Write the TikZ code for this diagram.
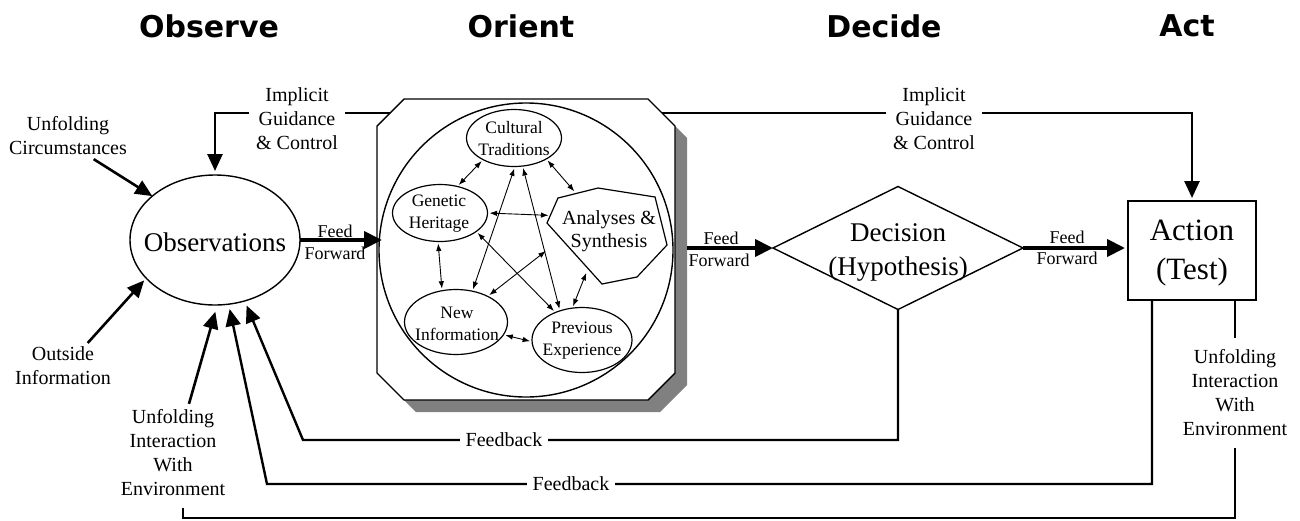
\documentclass[tikz,border=0pt]{standalone}
\usepackage{fontspec}
\setmainfont{Liberation Serif}
\newfontfamily\headfont{DejaVu Sans}
\usetikzlibrary{arrows.meta,shapes.geometric,calc}
\definecolor{shadowgray}{RGB}{128,128,128}
\begin{document}
\begin{tikzpicture}[x=1pt,y=-1pt,
  every node/.style={inner sep=0pt,outer sep=0pt},
  outline/.style={draw,line width=1.4pt},
  oval/.style={draw,ellipse,line width=1.2pt},
  heading/.style={font=\headfont\bfseries\fontsize{30}{36}\selectfont},
  lbl/.style={font=\fontsize{20}{24}\selectfont,align=center},
  ffl/.style={font=\fontsize{18}{20}\selectfont},
  intxt/.style={font=\fontsize{17.5}{22}\selectfont,align=center},
  bigtxt/.style={font=\fontsize{27}{34}\selectfont,align=center},
  heavy/.style={line width=2.6pt,-{Triangle[length=17pt,width=15pt]}},
  fbline/.style={line width=2.2pt},
  ffarrow/.style={line width=4pt,-{Triangle[length=18pt,width=17pt]}},
  dbl/.style={line width=0.9pt,{Latex[length=7.5pt,width=5.5pt]}-{Latex[length=7.5pt,width=5.5pt]},shorten <=2pt,shorten >=2pt},
]
\useasboundingbox (0,0) rectangle (1300,520);

% headings
\node[heading] (hobs) at (209,26) {Observe};
\node[heading] (hori) at (521,26) {Orient};
\node[heading] (hdec) at (884,26) {Decide};
\node[heading] (hact) at (1187,26) {Act};

% main shapes
\node[oval,line width=1.4pt,minimum width=170pt,minimum height=130pt] (obs) at (215,240) {};
\node[outline,diamond,minimum width=250pt,minimum height=123pt] (dec) at (898,248) {};
\node[outline,rectangle,minimum width=128pt,minimum height=99pt] (act) at (1192,250.5) {};

% coordinates
\coordinate (gmid) at (526,113);
\coordinate (fbA) at (303,440);
\coordinate (fbB) at (267,484);
\coordinate (lx) at (1152,0);
\coordinate (rx) at (1235,0);
\coordinate (bot) at (183,518);
\coordinate (u1b) at (183,508);
\coordinate (ffs) at (687,248);
\coordinate (asb) at (587,271);

% implicit guidance
\draw[heavy,shorten >=4pt] (gmid) -| (obs.north);
\draw[heavy,shorten >=3pt] (gmid) -| (act.north);

% orient box
\fill[shadowgray] (416,111) -- (660,111) -- (687,138) -- (687,385) -- (660,412) -- (416,412) -- (389,385) -- (389,138) -- cycle;
\draw[outline,fill=white] (404,99) -- (648,99) -- (675,126) -- (675,373) -- (648,400) -- (404,400) -- (377,373) -- (377,126) -- cycle;
\node[draw,circle,line width=1.4pt,minimum size=294pt] (orient) at (526,250) {};

\node[oval,minimum width=95pt,minimum height=57pt] (ct) at (514,138) {};
\node[intxt] (ctt) at (514,139) {Cultural\\Traditions};
\node[oval,minimum width=95pt,minimum height=57pt] (gh) at (440,213) {};
\node[intxt] (ght) at (439,214) {Genetic\\Heritage};
\node[oval,minimum width=103pt,minimum height=65pt] (ni) at (456,322) {};
\node[intxt] (nit) at (457,324) {New\\Information};
\node[oval,minimum width=100pt,minimum height=65pt] (pe) at (582,340) {};
\node[intxt] (pet) at (582,341) {Previous\\Experience};
\node[ellipse,minimum width=124pt,minimum height=100pt] (as) at (607,236) {};
\draw[line width=1.2pt] (547,223) -- (558,198) -- (598,188) -- (655,197) -- (667,245) -- (637,277) -- (602,284) -- cycle;
\node[intxt,font=\fontsize{20}{23}\selectfont] (ast) at (609,231) {Analyses \&\\Synthesis};

\draw[dbl] (gh.57) -- (ct.215);
\draw[dbl] (ct.-33) -- (as.126);
\draw[dbl] (gh.0) -- (as.160);
\draw[dbl] (gh.266) -- (ni.114);
\draw[dbl] (ct.272) -- (ni.62);
\draw[dbl] (ct.287) -- (pe.127);
\draw[dbl] (gh.-27) -- (pe.134);
\draw[dbl] (as.193) -- (ni.39);
\draw[dbl] (asb) -- (pe.107);
\draw[dbl] (ni.-15) -- (pe.182);

% texts in main shapes
\node[bigtxt] (obst) at (215,242) {Observations};
\node[bigtxt] (dect) at (898,252) {Decision\\(Hypothesis)};
\node[bigtxt,font=\fontsize{31}{39}\selectfont] (actt) at (1192,253) {Action\\(Test)};

% side labels
\node[lbl,inner sep=4pt] (uc) at (68,136) {Unfolding\\Circumstances};
\node[lbl,inner sep=4pt] (oi) at (63,366) {Outside\\Information};
\node[lbl,inner xsep=4pt,inner ysep=6pt] (uie1) at (173,453) {Unfolding\\Interaction\\With\\Environment};
\node[lbl,inner ysep=12pt] (uie2) at (1235,393) {Unfolding\\Interaction\\With\\Environment};

% feed forward
\draw[ffarrow,shorten >=-3pt] (obs.east) -- (obs.east -| orient.west);
\draw[ffarrow] (ffs) -- (dec.west);
\draw[ffarrow,shorten >=3pt] (dec.east) -- (act.west |- dec.east);
\node[ffl] (ff1a) at (335,231) {Feed};
\node[ffl] (ff1b) at (335,253) {Forward};
\node[ffl] (ff2a) at (721,238) {Feed};
\node[ffl] (ff2b) at (719,260) {Forward};
\node[ffl] (ff3a) at (1067,237) {Feed};
\node[ffl] (ff3b) at (1067,258) {Forward};

% feedback
\draw[heavy,line width=2.4pt,shorten >=5pt] (dec.south) |- (fbA) -- (obs.-64);
\draw[heavy,line width=2.4pt,shorten >=5pt] (act.south -| lx) |- (fbB) -- (obs.-78);
\draw[fbline] (act.south -| rx) -- (uie2.north);
\draw[fbline] (uie2.south) |- (bot) -- (u1b);
\draw[heavy,shorten >=7pt] (uie1.72) -- (obs.-88);
\draw[heavy,shorten >=3pt] (oi.43) -- (obs.209);
\draw[heavy] (uc.-42) -- (obs.145);

% labels on lines
\node[lbl,fill=white,inner xsep=7pt] (ig1) at (297,119) {Implicit\\Guidance\\\& Control};
\node[lbl,fill=white,inner xsep=7pt] (ig2) at (934,119) {Implicit\\Guidance\\\& Control};
\node[lbl,fill=white,inner xsep=6pt] (fb1) at (504,440) {Feedback};
\node[lbl,fill=white,inner xsep=6pt] (fb2) at (571,484) {Feedback};
\end{tikzpicture}
\end{document}
